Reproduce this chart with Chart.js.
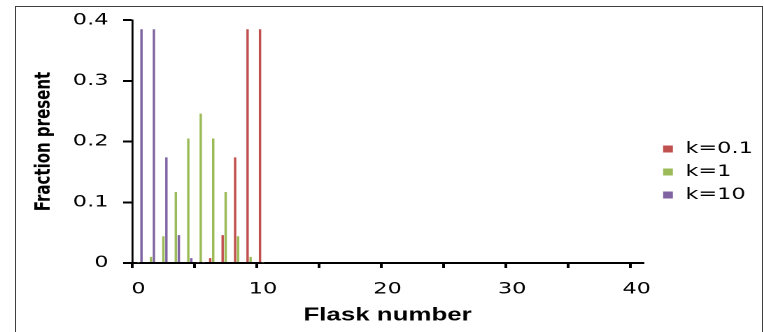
<!DOCTYPE html>
<html>
<head>
<meta charset="utf-8">
<script src="https://cdn.jsdelivr.net/npm/chart.js@4"></script>
<style>
html, body { margin: 0; padding: 0; background: #fff; overflow: hidden; width: 764px; height: 332px; }
#frame { position: absolute; left: 15px; top: 6px; width: 746px; height: 400px; border: 1px solid #404040; }
</style>
</head>
<body>
<div id="frame"></div>
<canvas id="c" width="546" height="332" style="position:absolute;left:0;top:0;width:764px;height:332px"></canvas>
<script>
// flask numbers 0..40
const flasks = [0, 1, 2, 3, 4, 5, 6, 7, 8, 9, 10, 11, 12, 13, 14, 15, 16, 17, 18, 19, 20,
  21, 22, 23, 24, 25, 26, 27, 28, 29, 30, 31, 32, 33, 34, 35, 36, 37, 38, 39, 40];

// fraction present per flask
const k01 = [0, 0, 0, 0, 0, 0.001, 0.008, 0.046, 0.174, 0.385, 0.385,
  0, 0, 0, 0, 0, 0, 0, 0, 0, 0, 0, 0, 0, 0, 0, 0, 0, 0, 0, 0, 0, 0, 0, 0, 0, 0, 0, 0, 0, 0];
const k1 = [0.001, 0.010, 0.044, 0.117, 0.205, 0.246, 0.205, 0.117, 0.044, 0.010, 0.001,
  0, 0, 0, 0, 0, 0, 0, 0, 0, 0, 0, 0, 0, 0, 0, 0, 0, 0, 0, 0, 0, 0, 0, 0, 0, 0, 0, 0, 0, 0];
const k10 = [0.385, 0.385, 0.174, 0.046, 0.008, 0.001, 0, 0, 0, 0, 0,
  0, 0, 0, 0, 0, 0, 0, 0, 0, 0, 0, 0, 0, 0, 0, 0, 0, 0, 0, 0, 0, 0, 0, 0, 0, 0, 0, 0, 0, 0];

const seriesNames = ['k=0.1', 'k=1', 'k=10'];
const seriesColors = ['#C0504D', '#9BBB59', '#8064A2'];
const yTickLabels = ['0', '0.1', '0.2', '0.3', '0.4'];

Chart.defaults.font.family = 'DejaVu Sans';
Chart.defaults.color = '#000';

// the original picture is stretched sideways, so the canvas is drawn narrow and widened by css
const ctx = document.getElementById('c').getContext('2d');

const myChart = new Chart(ctx, {
  type: 'bar',
  data: {
    labels: flasks,
    datasets: [
      { label: seriesNames[0], data: k01, backgroundColor: seriesColors[0] },
      { label: seriesNames[1], data: k1, backgroundColor: seriesColors[1] },
      { label: seriesNames[2], data: k10, backgroundColor: seriesColors[2] }
    ]
  },
  options: {
    responsive: false,
    devicePixelRatio: 2,
    animation: false,
    datasets: {
      bar: { categoryPercentage: 0.724, barPercentage: 0.8 }
    },
    layout: { padding: { left: 0, top: 20, right: -2, bottom: 0 } },
    plugins: {
      tooltip: { enabled: false },
      legend: {
        position: 'right',
        fullSize: false,
        title: { display: true, text: ' ', font: { size: 10 }, padding: 24.5 },
        labels: {
          usePointStyle: true,
          pointStyle: 'rect',
          boxWidth: 9,
          boxHeight: 7,
          padding: 7,
          color: '#000',
          font: { size: 16 }
        }
      }
    },
    scales: {
      x: {
        grid: {
          offset: true,
          drawOnChartArea: false,
          tickLength: 5,
          lineWidth: 2,
          color: c => c.index % 5 === 0 ? '#000' : 'rgba(0,0,0,0)'
        },
        border: { color: '#000', width: 2 },
        ticks: {
          autoSkip: false,
          maxRotation: 0,
          minRotation: 0,
          padding: 11.6,
          font: { size: 16 },
          callback: (v, i) => i % 10 === 0 ? String(flasks[i]) : ''
        },
        title: {
          display: true,
          text: 'Flask number',
          font: { family: 'Liberation Sans', size: 18.5, weight: 'bold' },
          padding: { top: 0, bottom: 5.4 }
        },
        afterFit: s => { s.height = 69; }
      },
      y: {
        min: 0,
        max: 0.4,
        grid: { drawOnChartArea: false, tickLength: 6.5, lineWidth: 2, color: '#000' },
        border: { color: '#000', width: 1.4 },
        ticks: {
          stepSize: 0.1,
          padding: 10.5,
          font: { size: 16 },
          callback: (v, i) => yTickLabels[i]
        },
        title: {
          display: true,
          text: 'Fraction present',
          font: { size: 15, weight: 'bold' },
          padding: { top: 22.4, bottom: 0 }
        },
        afterFit: s => { s.width = 94.5; }
      },
      gap: {
        type: 'linear',
        position: 'right',
        grid: { display: false },
        ticks: { display: false },
        border: { display: false },
        afterFit: s => { s.width = 6.4; }
      }
    }
  }
});
</script>
</body>
</html>
